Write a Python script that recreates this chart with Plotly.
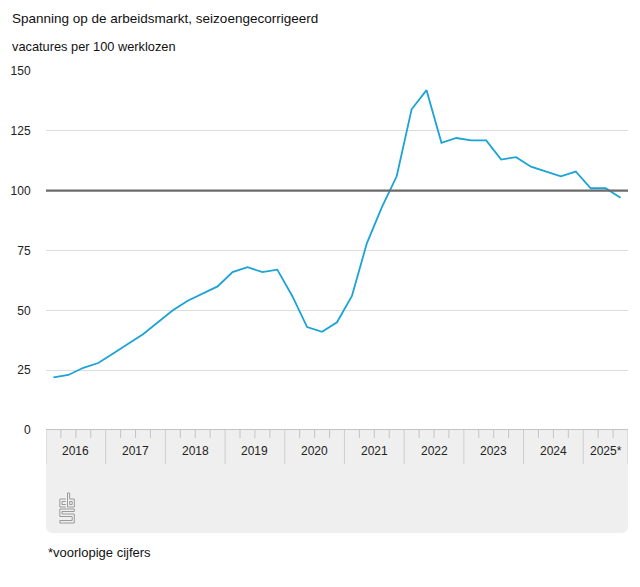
import plotly.graph_objects as go

# ---- data ----
title = "Spanning op de arbeidsmarkt, seizoengecorrigeerd"
subtitle = "vacatures per 100 werklozen"
footnote = "*voorlopige cijfers"
years = ["2016", "2017", "2018", "2019", "2020", "2021", "2022", "2023", "2024", "2025*"]
quarters_per_year = [4, 4, 4, 4, 4, 4, 4, 4, 4, 3]
values = [22, 23, 26, 28,
          32, 36, 40, 45,
          50, 54, 57, 60,
          66, 68, 66, 67,
          56, 43, 41, 45,
          56, 78, 93, 106,
          134, 142, 120, 122,
          121, 121, 113, 114,
          110, 108, 106, 108,
          101, 101, 97]
y_ticks = [0, 25, 50, 75, 100, 125, 150]
reference_level = 100

# ---- layout constants (page pixels; the page body adds an 8px margin) ----
OFF = 8
W, H = 640 - 2 * OFF, 587 - 2 * OFF
L, R, T, B = 46 - OFF, W - (628 - OFF), 71 - OFF, H - (430 - OFF)
pw, ph = W - L - R, H - T - B

def px(xp):
    return (xp - OFF - L) / pw

def py(yp):
    return (H - B - (yp - OFF)) / ph

n = len(values)
xs = list(range(n))

fig = go.Figure()
fig.add_trace(go.Scatter(x=xs, y=values, mode="lines",
                         line=dict(color="#1ba3d6", width=1.8),
                         hoverinfo="y", showlegend=False))

shapes = []
# grey band below the axis with rounded bottom corners
x0, x1 = px(46), px(628)
y0, y1 = py(430), py(533)
rx, ry = 7 / pw, 7 / ph
shapes.append(dict(type="path", xref="paper", yref="paper", layer="below",
                   path=(f"M {x0},{y0} L {x1},{y0} L {x1},{y1 + ry} "
                         f"Q {x1},{y1} {x1 - rx},{y1} L {x0 + rx},{y1} "
                         f"Q {x0},{y1} {x0},{y1 + ry} Z"),
                   fillcolor="#efefef", line=dict(width=0)))

# year separators and quarter ticks
start = 0
bounds = []
for q in quarters_per_year:
    bounds.append((start, start + q))
    start += q
for i, (a, b) in enumerate(bounds):
    for k in range(a + 1, b):
        shapes.append(dict(type="line", xref="x", yref="paper",
                           x0=k - 0.5, x1=k - 0.5, y0=py(430), y1=py(438),
                           line=dict(color="#c4c4c4", width=1)))
    shapes.append(dict(type="line", xref="x", yref="paper",
                       x0=a - 0.5, x1=a - 0.5, y0=py(430), y1=py(464),
                       line=dict(color="#cdcdcd", width=1)))
shapes.append(dict(type="line", xref="x", yref="paper",
                   x0=n - 0.5, x1=n - 0.5, y0=py(430), y1=py(464),
                   line=dict(color="#cdcdcd", width=1)))

# baseline and reference line
shapes.append(dict(type="line", xref="paper", yref="y", x0=0, x1=1, y0=0, y1=0,
                   line=dict(color="#8a8a8a", width=1.2)))
shapes.append(dict(type="line", xref="paper", yref="y", x0=0, x1=1,
                   y0=reference_level, y1=reference_level,
                   line=dict(color="#6b6b6b", width=2.4)))

# CBS logo (decoration), local pixel coordinates
ox, oy, sx = 59, 493, 0.85
logo_paths = [
    [(8, 6), (1, 6), (1, 14), (8, 14)],
    [(8, 8.5), (3.5, 8.5), (3.5, 11.5), (8, 11.5)],
    [(10, 0), (10, 14), (18, 14), (18, 6), (12.5, 6), (12.5, 0), (10, 0)],
    [(12.5, 8.5), (15.5, 8.5), (15.5, 11.5), (12.5, 11.5), (12.5, 8.5)],
    [(18, 16), (1, 16), (1, 23.5), (15.5, 23.5), (15.5, 27.5), (1, 27.5),
     (1, 30), (18, 30), (18, 21), (3.5, 21), (3.5, 18.5), (18, 18.5), (18, 16)],
]
for pts in logo_paths:
    p = " ".join(("M" if j == 0 else "L") + f" {px(ox + a * sx)},{py(oy + b)}"
                 for j, (a, b) in enumerate(pts))
    shapes.append(dict(type="path", xref="paper", yref="paper", path=p,
                       line=dict(color="#9a9a9a", width=1)))

annotations = []
for (a, b), label in zip(bounds, years):
    annotations.append(dict(x=(a + b - 1) / 2, y=py(451), xref="x", yref="paper",
                            xanchor="center", yanchor="middle",
                            text=label, showarrow=False,
                            font=dict(size=12, color="#222")))
annotations.append(dict(x=px(10), y=py(18), xref="paper", yref="paper",
                        xanchor="left", yanchor="middle", text=title,
                        showarrow=False, font=dict(size=13.5, color="#111")))
annotations.append(dict(x=px(10), y=py(47), xref="paper", yref="paper",
                        xanchor="left", yanchor="middle", text=subtitle,
                        showarrow=False, font=dict(size=12.8, color="#111")))
annotations.append(dict(x=px(46), y=py(552), xref="paper", yref="paper",
                        xanchor="left", yanchor="middle", text=footnote,
                        showarrow=False, font=dict(size=13, color="#111")))

fig.update_layout(
    width=W, height=H,
    margin=dict(l=L, r=R, t=T, b=B, pad=0),
    paper_bgcolor="white", plot_bgcolor="white",
    font=dict(family="Liberation Sans, Arial, sans-serif", size=12, color="#222"),
    shapes=shapes, annotations=annotations,
    xaxis=dict(range=[-0.5, n - 0.5], showgrid=False, zeroline=False,
               showticklabels=False, ticks="", fixedrange=True),
    yaxis=dict(range=[0, 150], tickvals=y_ticks, showgrid=True,
               gridcolor="#dddddd", gridwidth=1, zeroline=False,
               ticks="outside", ticklen=12, tickcolor="rgba(0,0,0,0)",
               tickfont=dict(size=12, color="#222"), fixedrange=True),
)

fig.write_html("out.html")
